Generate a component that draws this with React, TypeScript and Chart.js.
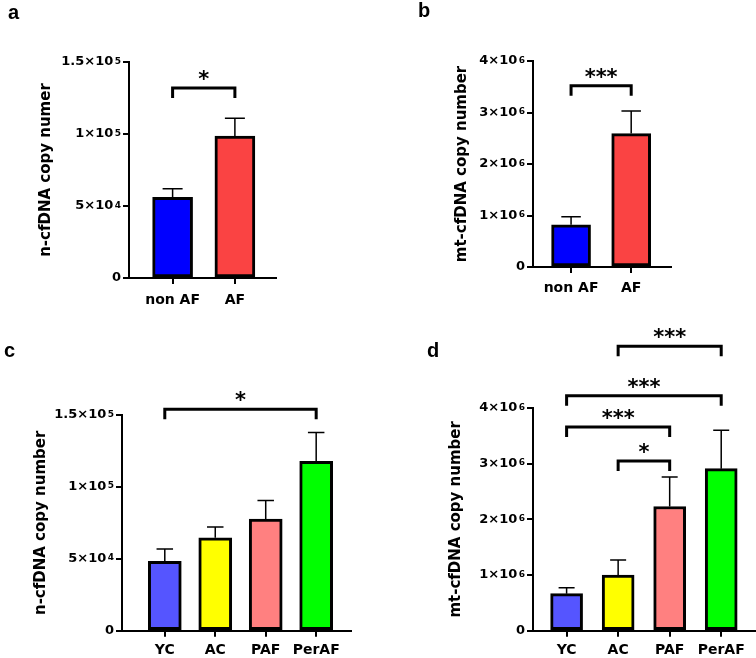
import { useEffect, useRef } from "react";
import { Chart, registerables } from "chart.js";

Chart.register(...registerables);

// groups
const groupsAB = ["non AF", "AF"];
const groupsCD = ["YC", "AC", "PAF", "PerAF"];

// n-cfDNA / mt-cfDNA copy numbers (mean and SEM)
const nMeanAB = [56000, 98500];
const nSemAB = [6000, 12500];
const mtMeanAB = [820000, 2590000];
const mtSemAB = [155000, 440000];

const nMeanCD = [48300, 64600, 77600, 117700];
const nSemCD = [8600, 7600, 12900, 20200];
const mtMeanCD = [665000, 1000000, 2230000, 2910000];
const mtSemCD = [105000, 270000, 530000, 690000];

// y ticks (label = base + superscript exponent)
const nTicks = [0, 50000, 100000, 150000];
const nTickBase = ["0", "5×10", "1×10", "1.5×10"];
const nTickExp = ["", "4", "5", "5"];
const mtTicks = [0, 1000000, 2000000, 3000000, 4000000];
const mtTickBase = ["0", "1×10", "2×10", "3×10", "4×10"];
const mtTickExp = ["", "6", "6", "6", "6"];

const colorsAB = ["#0000FF", "#FA4343"];
const colorsCD = ["#5555FF", "#FFFF00", "#FF8080", "#00FF00"];

// significance brackets: from group, to group, level (data units), label
const sigA = [{ from: 0, to: 1, level: 132000, text: "*" }];
const sigB = [{ from: 0, to: 1, level: 3520000, text: "***" }];
const sigC = [{ from: 0, to: 3, level: 154000, text: "*" }];
const sigD = [
  { from: 1, to: 3, level: 5110000, text: "***" },
  { from: 0, to: 3, level: 4220000, text: "***" },
  { from: 0, to: 2, level: 3660000, text: "***" },
  { from: 1, to: 2, level: 3050000, text: "*" },
];

const FONT = "'DejaVu Sans', sans-serif";

interface Bracket {
  from: number;
  to: number;
  level: number;
  text: string;
}

interface PanelProps {
  letter: string;
  letterX: number;
  letterY: number;
  categories: string[];
  means: number[];
  sems: number[];
  colors: string[];
  yTicks: number[];
  yBase: string[];
  yExp: string[];
  yTitle: string;
  brackets: Bracket[];
  left: number;
  top: number;
  width: number;
  height: number;
  pad: { left: number; top: number; right: number; bottom: number };
  yWidth: number;
  xMin: number;
  xMax: number;
  barW: number;
  labelPad: number;
}

function Panel(p: PanelProps) {
  const canvasRef = useRef<HTMLCanvasElement>(null);

  useEffect(() => {
    if (!canvasRef.current) return;
    const ctx = canvasRef.current.getContext("2d");
    if (!ctx) return;

    const overlay = {
      id: "overlay",
      afterDatasetsDraw(chart: any) {
        const c = chart.ctx;
        const xs = chart.scales.x;
        const ys = chart.scales.y;
        const meta = chart.getDatasetMeta(0);
        c.save();
        // error bars (upper only)
        c.strokeStyle = "#000";
        c.lineWidth = 1.5;
        meta.data.forEach((bar: any, i: number) => {
          const yTop = ys.getPixelForValue(p.means[i] + p.sems[i]);
          const cap = p.barW / 4;
          c.beginPath();
          c.moveTo(bar.x, bar.y);
          c.lineTo(bar.x, yTop);
          c.moveTo(bar.x - cap, yTop);
          c.lineTo(bar.x + cap, yTop);
          c.stroke();
        });
        // significance brackets
        c.lineWidth = 3;
        c.lineJoin = "miter";
        c.fillStyle = "#000";
        c.font = `bold 21px ${FONT}`;
        c.textAlign = "center";
        c.textBaseline = "alphabetic";
        p.brackets.forEach((b) => {
          const x1 = xs.getPixelForValue(b.from);
          const x2 = xs.getPixelForValue(b.to);
          const y = ys.getPixelForValue(b.level);
          c.beginPath();
          c.moveTo(x1, y + 10);
          c.lineTo(x1, y);
          c.lineTo(x2, y);
          c.lineTo(x2, y + 10);
          c.stroke();
          c.fillText(b.text, (x1 + x2) / 2, y - 2);
        });
        // y tick labels with superscript exponents
        const right = chart.chartArea.left - 8;
        p.yTicks.forEach((v, i) => {
          const y = ys.getPixelForValue(v);
          let x = right;
          c.textAlign = "right";
          if (p.yExp[i]) {
            c.font = `bold 9px ${FONT}`;
            c.textBaseline = "alphabetic";
            c.fillText(p.yExp[i], x, y + 1.5);
            x -= c.measureText(p.yExp[i]).width + 1.5;
          }
          c.font = `bold 13px ${FONT}`;
          c.textBaseline = "middle";
          c.fillText(p.yBase[i], x, y);
        });
        // panel letter
        c.font = "bold 20px 'Liberation Sans', Arial, sans-serif";
        c.textAlign = "left";
        c.textBaseline = "alphabetic";
        c.fillText(p.letter, p.letterX, p.letterY);
        c.restore();
      },
    };

    const axisGrid = {
      drawOnChartArea: false,
      drawTicks: true,
      tickLength: 6,
      color: "#000",
      lineWidth: 2,
      offset: false,
    };

    const chart = new Chart(ctx, {
      type: "bar",
      data: {
        datasets: [
          {
            data: p.means.map((m, i) => ({ x: i, y: m })),
            backgroundColor: p.colors,
            borderColor: "#000",
            borderWidth: 3,
            borderSkipped: false,
            barThickness: p.barW,
          },
        ],
      },
      options: {
        animation: false,
        responsive: false,
        layout: { padding: p.pad },
        plugins: {
          legend: { display: false },
          tooltip: { enabled: false },
        },
        scales: {
          x: {
            type: "linear",
            offset: false,
            min: p.xMin,
            max: p.xMax,
            afterBuildTicks: (s: any) => {
              s.ticks = p.categories.map((_, i) => ({ value: i }));
            },
            afterFit: (s: any) => {
              s.height = 26;
            },
            ticks: {
              callback: (v: any) => p.categories[v] ?? "",
              font: { family: FONT, size: 14, weight: "bold" },
              color: "#000",
              padding: p.labelPad,
              maxRotation: 0,
              autoSkip: false,
            },
            grid: axisGrid,
            border: { color: "#000", width: 2 },
          },
          y: {
            min: 0,
            max: p.yTicks[p.yTicks.length - 1],
            afterBuildTicks: (s: any) => {
              s.ticks = p.yTicks.map((v) => ({ value: v }));
            },
            afterFit: (s: any) => {
              s.width = p.yWidth;
            },
            ticks: {
              // labels are drawn by the overlay plugin (superscripts)
              callback: () => "",
              padding: 2,
            },
            grid: axisGrid,
            border: { color: "#000", width: 2 },
            title: {
              display: true,
              text: p.yTitle,
              font: { family: FONT, size: 15, weight: "bold", lineHeight: 1.2 },
              color: "#000",
              padding: 0,
            },
          },
        },
      } as any,
      plugins: [overlay],
    });

    return () => {
      chart.destroy();
    };
  }, []);

  return (
    <div
      style={{
        position: "absolute",
        left: p.left,
        top: p.top,
        width: p.width,
        height: p.height,
      }}
    >
      <canvas
        ref={canvasRef}
        width={p.width}
        height={p.height}
        style={{ width: p.width, height: p.height, display: "block" }}
      />
    </div>
  );
}

export default function App() {
  return (
    <div
      style={{
        position: "absolute",
        left: 0,
        top: 0,
        width: 756,
        height: 658,
        background: "#fff",
        overflow: "hidden",
      }}
    >
      <Panel
        letter="a"
        letterX={8}
        letterY={19}
        categories={groupsAB}
        means={nMeanAB}
        sems={nSemAB}
        colors={colorsAB}
        yTicks={nTicks}
        yBase={nTickBase}
        yExp={nTickExp}
        yTitle="n-cfDNA copy numer"
        brackets={sigA}
        left={0}
        top={0}
        width={378}
        height={320}
        pad={{ left: 37, top: 62, right: 102, bottom: 16 }}
        yWidth={92}
        xMin={-0.7}
        xMax={1.66}
        barW={40}
        labelPad={8}
      />
      <Panel
        letter="b"
        letterX={40}
        letterY={17}
        categories={groupsAB}
        means={mtMeanAB}
        sems={mtSemAB}
        colors={colorsAB}
        yTicks={mtTicks}
        yBase={mtTickBase}
        yExp={mtTickExp}
        yTitle="mt-cfDNA copy number"
        brackets={sigB}
        left={378}
        top={0}
        width={378}
        height={320}
        pad={{ left: 75, top: 61, right: 85, bottom: 27 }}
        yWidth={80}
        xMin={-0.633}
        xMax={1.662}
        barW={39}
        labelPad={6.6}
      />
      <Panel
        letter="c"
        letterX={4}
        letterY={37}
        categories={groupsCD}
        means={nMeanCD}
        sems={nSemCD}
        colors={colorsCD}
        yTicks={nTicks}
        yBase={nTickBase}
        yExp={nTickExp}
        yTitle="n-cfDNA copy number"
        brackets={sigC}
        left={0}
        top={320}
        width={378}
        height={338}
        pad={{ left: 32, top: 95, right: 27, bottom: 1.3 }}
        yWidth={90}
        xMin={-0.848}
        xMax={3.69}
        barW={33}
        labelPad={5.7}
      />
      <Panel
        letter="d"
        letterX={49}
        letterY={37}
        categories={groupsCD}
        means={mtMeanCD}
        sems={mtSemCD}
        colors={colorsCD}
        yTicks={mtTicks}
        yBase={mtTickBase}
        yExp={mtTickExp}
        yTitle="mt-cfDNA copy number"
        brackets={sigD}
        left={378}
        top={320}
        width={378}
        height={338}
        pad={{ left: 69, top: 88, right: 0, bottom: 1.3 }}
        yWidth={86}
        xMin={-0.652}
        xMax={3.675}
        barW={32}
        labelPad={5.7}
      />
    </div>
  );
}
